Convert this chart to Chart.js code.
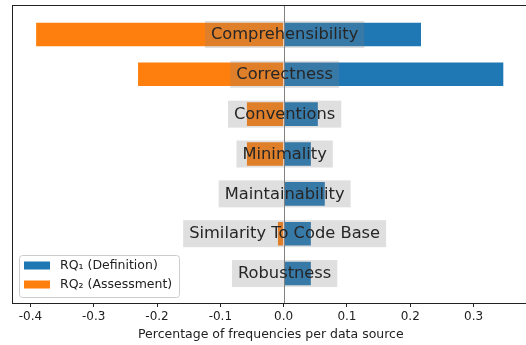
<!DOCTYPE html>
<html>
<head>
<meta charset="utf-8">
<script src="https://cdn.jsdelivr.net/npm/chart.js@4"></script>
<style>
  html, body { margin: 0; padding: 0; background: #fff; overflow: hidden; }
  #wrap { width: 526px; height: 345px; overflow: hidden; }
</style>
</head>
<body>
<div id="wrap"><canvas id="chart" width="532" height="345"></canvas></div>
<script>
// Data
const categories = ['Comprehensibility', 'Correctness', 'Conventions', 'Minimality',
                    'Maintainability', 'Similarity To Code Base', 'Robustness'];
const definitionValues = [0.217, 0.347, 0.054, 0.043, 0.065, 0.043, 0.043];
const assessmentValues = [-0.391, -0.230, -0.058, -0.058, 0, -0.009, 0];
const seriesNames = ['RQ\u2081 (Definition)', 'RQ\u2082 (Assessment)'];
const tickValues = [-0.4, -0.3, -0.2, -0.1, 0.0, 0.1, 0.2, 0.3];
const tickLabels = ['-0.4', '-0.3', '-0.2', '-0.1', '0.0', '0.1', '0.2', '0.3'];

const BLUE = '#1f77b4';
const ORANGE = '#ff7f0e';
const FONT = "'DejaVu Sans', sans-serif";

const toPoints = vals => vals.map((v, i) => ({ x: v, y: i }));

// zero line + centred category labels with grey boxes, top spine, legend
const labelPlugin = {
    id: 'centreLabels',
    afterDatasetsDraw(chart) {
        const { ctx, chartArea, scales } = chart;
        const x0 = scales.x.getPixelForValue(0);
        ctx.save();
        ctx.fillStyle = 'rgb(128,128,128)';
        ctx.fillRect(Math.round(x0), chartArea.top, 1, chartArea.bottom - chartArea.top);

        ctx.font = '16.3px ' + FONT;
        ctx.textAlign = 'center';
        ctx.textBaseline = 'middle';
        categories.forEach((name, i) => {
            const y = scales.y.getPixelForValue(i);
            const w = ctx.measureText(name).width + 12;
            const h = 27;
            ctx.fillStyle = 'rgba(128,128,128,0.25)';
            ctx.fillRect(x0 + 1 - w / 2, y - h / 2, w, h);
            ctx.fillStyle = '#262626';
            ctx.fillText(name, x0 + 1, y + 0.5);
        });
        ctx.restore();
    },
    afterDraw(chart) {
        const { ctx, chartArea } = chart;
        ctx.save();
        // keep the right side open, as in the original axes
        ctx.fillStyle = '#fff';
        ctx.fillRect(chartArea.right - 10, chartArea.top + 1, 20, chartArea.bottom - chartArea.top - 2);
        // top spine
        ctx.fillStyle = '#222';
        ctx.fillRect(chartArea.left, chartArea.top, chartArea.right - chartArea.left, 1);

        const lx = 19, ly = 255, lw = 160, lh = 42, r = 3;
        ctx.fillStyle = 'rgba(255,255,255,0.8)';
        ctx.strokeStyle = '#cccccc';
        ctx.lineWidth = 1;
        ctx.beginPath();
        ctx.roundRect(lx + 0.5, ly + 0.5, lw, lh, r);
        ctx.fill();
        ctx.stroke();
        const colours = [BLUE, ORANGE];
        ctx.font = '12.5px ' + FONT;
        ctx.textAlign = 'left';
        ctx.textBaseline = 'middle';
        seriesNames.forEach((name, i) => {
            const cy = 265.5 + i * 19;
            ctx.fillStyle = colours[i];
            ctx.fillRect(24, cy - 4, 26, 8);
            ctx.fillStyle = '#222';
            ctx.fillText(name, 60, cy);
        });
        ctx.restore();
    }
};

const ctx = document.getElementById('chart').getContext('2d');
new Chart(ctx, {
    type: 'bar',
    data: {
        datasets: [{
            label: seriesNames[0],
            data: toPoints(definitionValues),
            backgroundColor: BLUE,
            borderWidth: 0,
            barPercentage: 0.8,
            categoryPercentage: 1.0
        }, {
            label: seriesNames[1],
            data: toPoints(assessmentValues),
            backgroundColor: ORANGE,
            borderWidth: 0,
            barPercentage: 0.8,
            categoryPercentage: 1.0
        }]
    },
    options: {
        indexAxis: 'y',
        responsive: false,
        animation: false,
        layout: { padding: { left: 12.7, top: 5, right: 3, bottom: 0 } },
        plugins: {
            legend: { display: false },
            tooltip: { enabled: false }
        },
        scales: {
            y: {
                type: 'linear',
                reverse: true,
                stacked: true,
                offset: false,
                min: -0.74,
                max: 6.74,
                ticks: { display: false },
                grid: { drawOnChartArea: false, drawTicks: false },
                border: { display: true, color: '#222', width: 1 },
                afterFit(axis) { axis.width = 0; }
            },
            x: {
                type: 'linear',
                min: -0.428,
                max: 0.3876,
                afterBuildTicks(axis) {
                    axis.ticks = tickValues.map(v => ({ value: v }));
                },
                ticks: {
                    callback: (v, i) => tickLabels[i],
                    font: { family: FONT, size: 12 },
                    color: '#222',
                    padding: 3,
                    maxRotation: 0
                },
                grid: {
                    drawOnChartArea: false,
                    drawTicks: true,
                    tickLength: 4,
                    tickColor: '#222'
                },
                border: { display: true, color: '#222', width: 1 },
                title: {
                    display: true,
                    text: 'Percentage of frequencies per data source',
                    font: { family: FONT, size: 12.5 },
                    color: '#222',
                    padding: { top: 1, bottom: 3 }
                },
                afterFit(axis) {
                    axis.height = 42;
                    axis.paddingLeft = 0;
                    axis.paddingRight = 0;
                }
            }
        }
    },
    plugins: [labelPlugin]
});
</script>
</body>
</html>
